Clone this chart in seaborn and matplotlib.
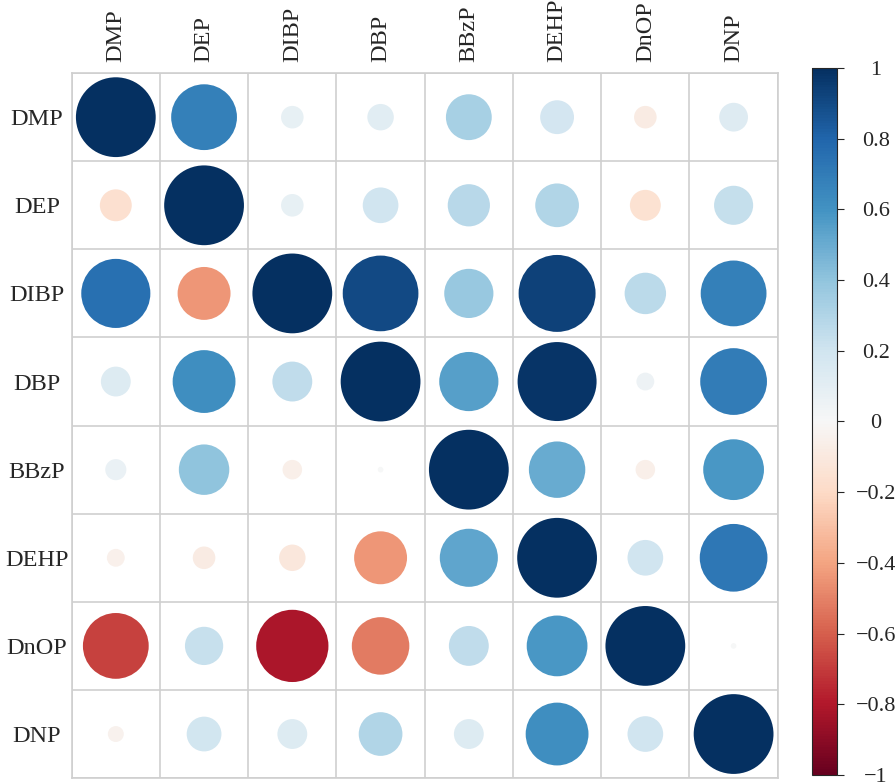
import numpy as np
import pandas as pd
import matplotlib
matplotlib.use('Agg')
import matplotlib.pyplot as plt
import seaborn as sns

# ============================================================
# DATA - correlation matrix (rows x columns)
# ============================================================

labels = ['DMP', 'DEP', 'DIBP', 'DBP', 'BBzP', 'DEHP', 'DnOP', 'DNP']

r_dmp  = [1.00, 0.68, 0.08, 0.11, 0.33, 0.18, -0.08, 0.13]
r_dep  = [-0.16, 1.00, 0.08, 0.20, 0.28, 0.30, -0.15, 0.24]
r_dibp = [0.75, -0.44, 1.00, 0.90, 0.38, 0.93, 0.27, 0.68]
r_dbp  = [0.14, 0.62, 0.25, 1.00, 0.55, 0.98, 0.05, 0.70]
r_bbzp = [0.07, 0.40, -0.06, 0.005, 1.00, 0.50, -0.06, 0.58]
r_dehp = [-0.05, -0.08, -0.11, -0.44, 0.53, 1.00, 0.20, 0.72]
r_dnop = [-0.68, 0.23, -0.82, -0.52, 0.25, 0.58, 1.00, 0.005]
r_dnp  = [-0.04, 0.19, 0.14, 0.30, 0.14, 0.62, 0.20, 1.00]

rows = [r_dmp, r_dep, r_dibp, r_dbp, r_bbzp, r_dehp, r_dnop, r_dnp]

cbar_ticks = [-1, -0.8, -0.6, -0.4, -0.2, 0, 0.2, 0.4, 0.6, 0.8, 1]
cbar_labels = ['\u22121', '\u22120.8', '\u22120.6', '\u22120.4', '\u22120.2', '0',
               '0.2', '0.4', '0.6', '0.8', '1']

# long format for seaborn
records = []
for i, row in enumerate(rows):
    for j, v in enumerate(row):
        records.append({'row': labels[i], 'col': labels[j], 'r': v, 'absr': abs(v)})
df = pd.DataFrame(records)

# ============================================================
# PLOT
# ============================================================

sns.set_style('white')
plt.rcParams['font.family'] = ['Liberation Serif', 'DejaVu Serif']

fig = plt.figure(figsize=(8.96, 7.82), dpi=100)
ax = fig.add_axes([0.080, 0.005, 0.788, 0.9015])

# circle area proportional to |r| (max diameter ~0.9 of a cell)
sns.scatterplot(data=df, x='col', y='row', hue='r', size='absr',
                palette='RdBu', hue_norm=(-1, 1),
                sizes=(0, 3300), size_norm=(0, 1),
                linewidth=0, legend=False, ax=ax, zorder=3)

ax.set_xlim(-0.5, 7.5)
ax.set_ylim(7.5, -0.5)

# cell grid
for k in np.arange(-0.5, 8, 1):
    ax.axhline(k, color='#cfcfcf', lw=1.2, zorder=1)
    ax.axvline(k, color='#cfcfcf', lw=1.2, zorder=1)
for s in ax.spines.values():
    s.set_color('#cfcfcf')
    s.set_linewidth(1.2)

ax.set_xlabel('')
ax.set_ylabel('')
ax.xaxis.tick_top()
ax.tick_params(axis='x', length=0, pad=8, labelsize=17.5, labelrotation=90)
ax.tick_params(axis='y', length=0, pad=25, labelsize=17.5)
for t in ax.get_yticklabels():
    t.set_ha('center')

# colorbar
cax = fig.add_axes([0.906, 0.009, 0.028, 0.904])
sm = plt.cm.ScalarMappable(cmap='RdBu', norm=plt.Normalize(-1, 1))
cb = fig.colorbar(sm, cax=cax, ticks=cbar_ticks)
cb.outline.set_linewidth(0.8)
cb.ax.set_yticklabels(cbar_labels)
cb.ax.tick_params(labelsize=16, length=5, width=0.8, pad=23)
for t in cb.ax.get_yticklabels():
    t.set_ha('center')

plt.savefig('out.png', dpi=100)
